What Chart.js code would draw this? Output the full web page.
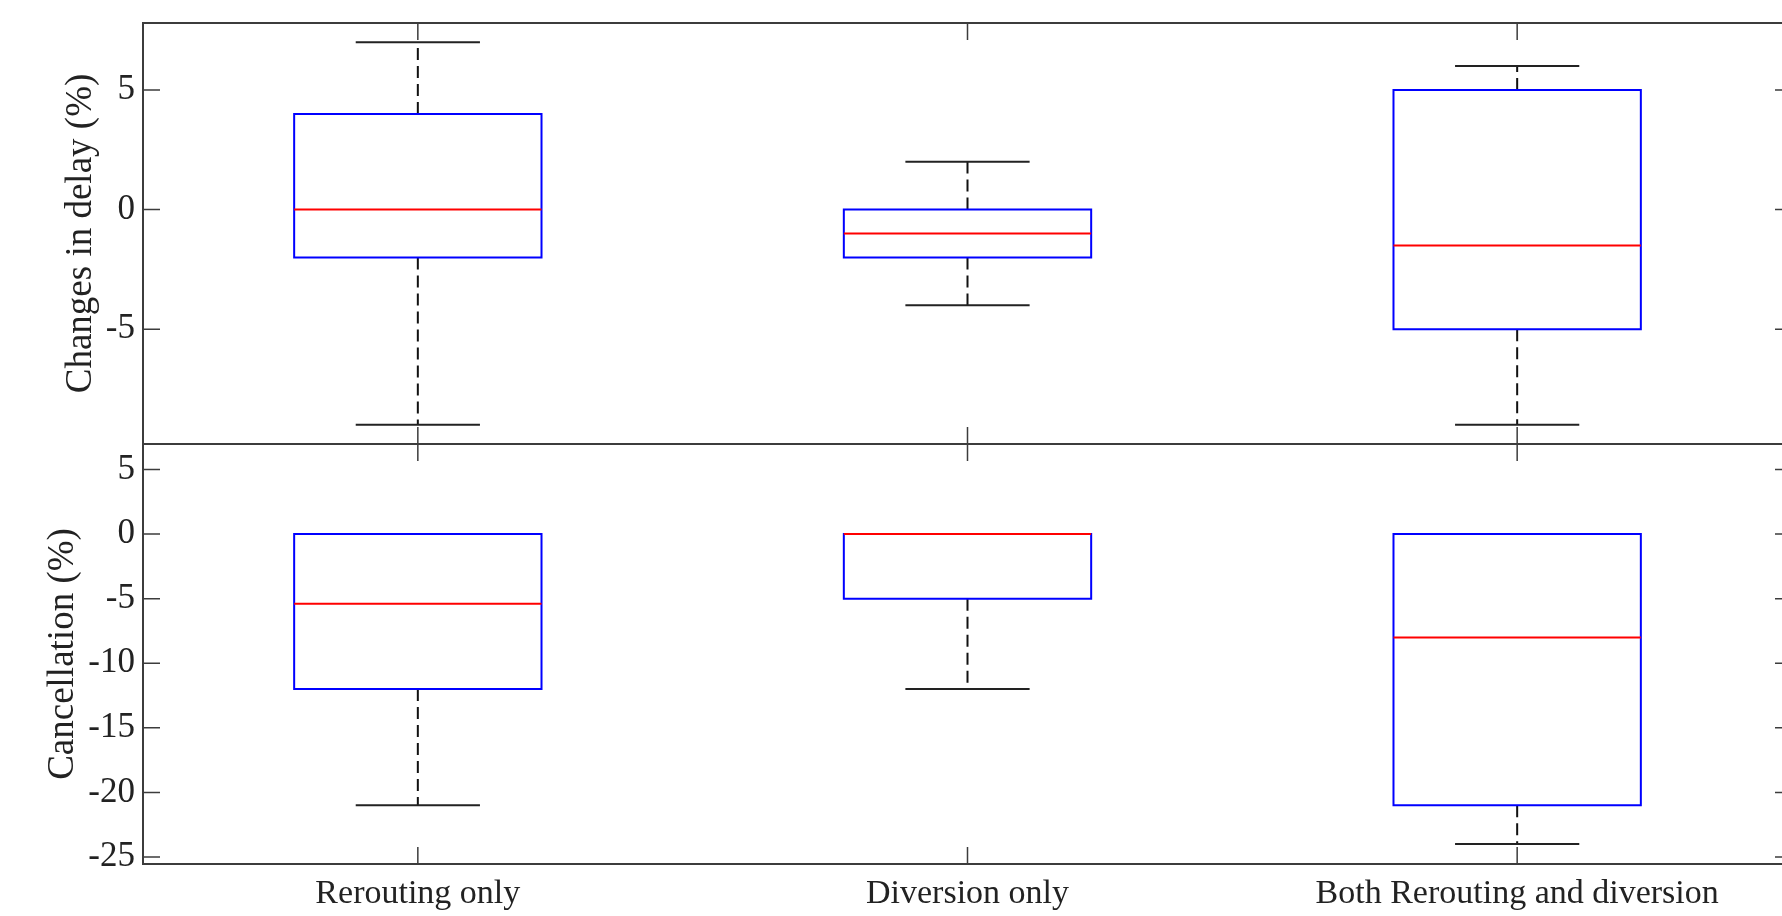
<!DOCTYPE html>
<html>
<head>
<meta charset="utf-8">
<script src="https://cdn.jsdelivr.net/npm/chart.js@4.4.0/dist/chart.umd.min.js"></script>
<style>
    html, body { margin: 0; padding: 0; background: #fff; overflow: hidden; width: 1782px; height: 916px; }
    .panel { position: absolute; left: 0; }
    #panelDelay { top: 0; }
    #panelCancel { top: 430px; }
</style>
</head>
<body>
<div class="panel" id="panelDelay"><canvas id="graphDelay" width="1810" height="460"></canvas></div>
<div class="panel" id="panelCancel"><canvas id="graphCancel" width="1810" height="486"></canvas></div>
<script>
//Datos
    const categories = ['Rerouting only', 'Diversion only', 'Both Rerouting and diversion'];

    //Changes in delay (%)
    const delayMin    = [-9, -4, -9];
    const delayQ1     = [-2, -2, -5];
    const delayMedian = [0, -1, -1.5];
    const delayQ3     = [4, 0, 5];
    const delayMax    = [7, 2, 6];
    const delayTicks  = [-5, 0, 5];

    //Cancellation (%)
    const cancelMin    = [-21, -12, -24];
    const cancelQ1     = [-12, -5, -21];
    const cancelMedian = [-5.4, 0, -8];
    const cancelQ3     = [0, 0, 0];
    const cancelMax    = [0, 0, 0];
    const cancelTicks  = [-25, -20, -15, -10, -5, 0, 5];

//Estilos
    const fuente = 'Liberation Serif';
    const colorTexto = '#222';
    const colorEjes = '#3c3c3c';
    const mitadCaja = 0.225;   //media anchura de la caja (unidades de categoria)
    const mitadTope = 0.113;   //media anchura del tope del bigote
    const largoTick = 17;

    //Marco de ejes con ticks hacia dentro en los 4 lados (estilo MATLAB)
    const marcoEjes = {
        id: 'marcoEjes',
        afterDatasetsDraw(chart) {
            const {ctx, chartArea: a, scales} = chart;
            ctx.save();
            ctx.strokeStyle = colorEjes;
            ctx.lineWidth = 2;
            ctx.strokeRect(a.left, a.top, a.right - a.left, a.bottom - a.top);
            ctx.lineWidth = 1.5;
            ctx.beginPath();
            scales.y.ticks.forEach(t => {
                const py = scales.y.getPixelForValue(t.value);
                ctx.moveTo(a.left, py); ctx.lineTo(a.left + largoTick, py);
                ctx.moveTo(a.right, py); ctx.lineTo(a.right - largoTick, py);
            });
            categories.forEach((c, i) => {
                const px = scales.x.getPixelForValue(i);
                ctx.moveTo(px, a.bottom); ctx.lineTo(px, a.bottom - largoTick);
                ctx.moveTo(px, a.top); ctx.lineTo(px, a.top + largoTick);
            });
            ctx.stroke();
            ctx.restore();
        }
    };

    function crearDatasets(min, q1, med, q3, max) {
        const cajas = [], medianas = [], bigotes = [], topes = [];
        categories.forEach((c, i) => {
            const izq = i - mitadCaja, der = i + mitadCaja;
            cajas.push({x: izq, y: q1[i]}, {x: der, y: q1[i]}, {x: der, y: q3[i]}, {x: izq, y: q3[i]}, {x: izq, y: q1[i]}, {x: i, y: null});
            medianas.push({x: izq, y: med[i]}, {x: der, y: med[i]}, {x: i, y: null});
            bigotes.push({x: i, y: q3[i]}, {x: i, y: max[i]}, {x: i, y: null});
            bigotes.push({x: i, y: q1[i]}, {x: i, y: min[i]}, {x: i, y: null});
            topes.push({x: i - mitadTope, y: max[i]}, {x: i + mitadTope, y: max[i]}, {x: i, y: null});
            topes.push({x: i - mitadTope, y: min[i]}, {x: i + mitadTope, y: min[i]}, {x: i, y: null});
        });
        const base = {showLine: true, pointRadius: 0, borderWidth: 2, spanGaps: false};
        return [
            {...base, data: medianas, borderColor: '#ff0000', order: 0},
            {...base, data: cajas, borderColor: '#0000ff', borderCapStyle: 'square', order: 1},
            {...base, data: topes, borderColor: '#222', order: 2},
            {...base, data: bigotes, borderColor: '#111', borderDash: [12, 6], order: 3}
        ];
    }

    function ejeY(min, max, ticks, titulo, padTitulo) {
        return {
            min: min,
            max: max,
            afterBuildTicks: s => { s.ticks = ticks.map(v => ({value: v})); },
            afterFit: s => { s.width = 143; s.paddingTop = 0; s.paddingBottom = 0; },
            grid: { display: false, drawTicks: false },
            border: { display: false },
            ticks: { color: colorTexto, padding: 8, font: { family: fuente, size: 35 } },
            title: { display: true, text: titulo, color: colorTexto, padding: { top: padTitulo, bottom: 0 }, font: { family: fuente, size: 37 } }
        };
    }

    const ejeXBase = {
        type: 'linear',
        min: -0.5,
        max: 2.5,
        afterBuildTicks: s => { s.ticks = categories.map((c, i) => ({value: i})); },
        grid: { display: false, drawTicks: false },
        border: { display: false },
        ticks: {
            color: colorTexto, padding: 10, maxRotation: 0, autoSkip: false,
            font: { family: fuente, size: 34 },
            callback: v => categories[v]
        }
    };

    const opcionesBase = {
        responsive: false,
        animation: false,
        plugins: { legend: { display: false }, tooltip: { enabled: false } }
    };

    //Grafico cambios en retraso
    let graficoDelay = document.querySelector('#graphDelay');
    new Chart(graficoDelay, {
        type: 'scatter',
        data: { datasets: crearDatasets(delayMin, delayQ1, delayMedian, delayQ3, delayMax) },
        options: {
            ...opcionesBase,
            layout: { padding: { top: 23, right: 18, bottom: 16, left: 0 } },
            scales: {
                x: { ...ejeXBase, display: false },
                y: ejeY(-9.8, 7.8, delayTicks, 'Changes in delay (%)', 59)
            }
        },
        plugins: [marcoEjes]
    });

    //Grafico cancelaciones
    let graficoCancel = document.querySelector('#graphCancel');
    new Chart(graficoCancel, {
        type: 'scatter',
        data: { datasets: crearDatasets(cancelMin, cancelQ1, cancelMedian, cancelQ3, cancelMax) },
        options: {
            ...opcionesBase,
            layout: { padding: { top: 14, right: 18, bottom: 0, left: 0 } },
            scales: {
                x: { ...ejeXBase, afterFit: s => { s.height = 52; } },
                y: ejeY(-25.54, 6.97, cancelTicks, 'Cancellation (%)', 41)
            }
        },
        plugins: [marcoEjes]
    });
</script>
</body>
</html>
